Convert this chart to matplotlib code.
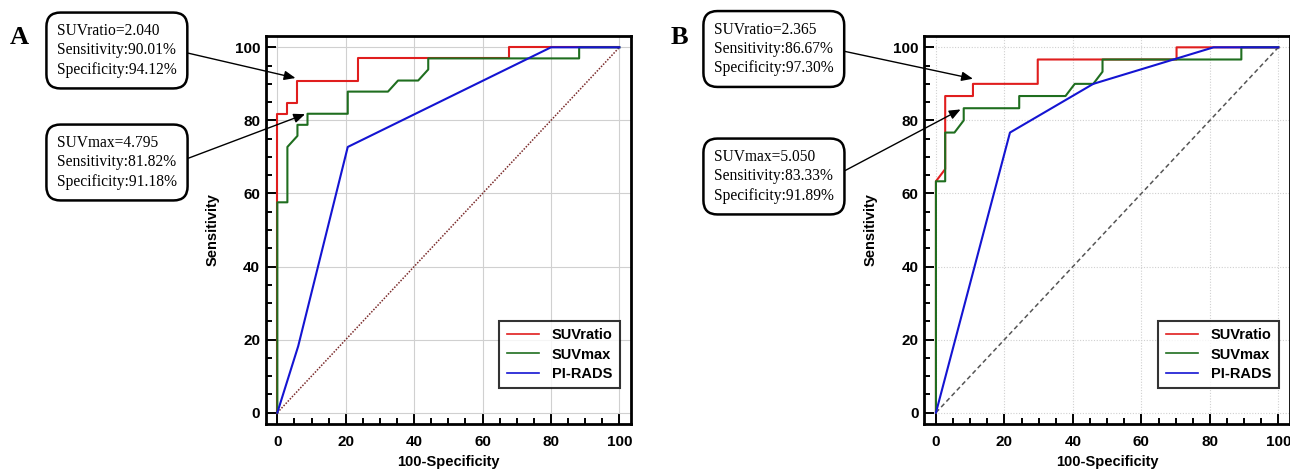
import matplotlib
matplotlib.use("Agg")
import matplotlib.pyplot as plt
from matplotlib.ticker import MultipleLocator

# ---- data ----
a_ratio_x = [0, 0, 2.94, 2.94, 5.88, 5.88, 23.53, 23.53, 67.65, 67.65, 100]
a_ratio_y = [0, 81.82, 81.82, 84.85, 84.85, 90.91, 90.91, 96.97, 96.97, 100, 100]
a_max_x = [0, 0, 2.94, 2.94, 5.88, 5.88, 8.82, 8.82, 20.59, 20.59, 32.35, 35.29,
           41.18, 44.12, 44.12, 88.24, 88.24, 100]
a_max_y = [0, 57.58, 57.58, 72.73, 75.76, 78.79, 78.79, 81.82, 81.82, 87.88, 87.88,
           90.91, 90.91, 93.94, 96.97, 96.97, 100, 100]
a_pirads_x = [0, 6.1, 20.59, 80.0, 100]
a_pirads_y = [0, 18.2, 72.73, 100, 100]

b_ratio_x = [0, 0, 2.70, 2.70, 10.81, 10.81, 29.73, 29.73, 70.27, 70.27, 100]
b_ratio_y = [0, 63.33, 66.67, 86.67, 86.67, 90.0, 90.0, 96.67, 96.67, 100, 100]
b_max_x = [0, 0, 2.70, 2.70, 5.41, 8.11, 8.11, 24.32, 24.32, 37.84, 40.54, 45.95,
           48.65, 48.65, 89.19, 89.19, 100]
b_max_y = [0, 63.33, 63.33, 76.67, 76.67, 80.0, 83.33, 83.33, 86.67, 86.67, 90.0,
           90.0, 93.33, 96.67, 96.67, 100, 100]
b_pirads_x = [0, 21.62, 45.95, 81.08, 100]
b_pirads_y = [0, 76.67, 90.0, 100, 100]

series_names = ["SUVratio", "SUVmax", "PI-RADS"]
panel_letters = ["A", "B"]

a_notes = ["SUVratio=2.040\nSensitivity:90.01%\nSpecificity:94.12%",
           "SUVmax=4.795\nSensitivity:81.82%\nSpecificity:91.18%"]
a_targets = [(5.3, 91.6), (8.1, 81.7)]
b_notes = ["SUVratio=2.365\nSensitivity:86.67%\nSpecificity:97.30%",
           "SUVmax=5.050\nSensitivity:83.33%\nSpecificity:91.89%"]
b_targets = [(10.8, 91.4), (7.2, 83.0)]

colors = ["#e01e1e", "#1f6e1f", "#1414d2"]

plt.rcParams["font.family"] = ["Liberation Sans", "DejaVu Sans"]

W, H = 1290, 471
fig = plt.figure(figsize=(W / 100, H / 100), dpi=100)


def panel(left_px, right_px, curves, diag_style, grid_style, notes, targets,
          note_x_px, note_y_px, letter, letter_x_px):
    ax = fig.add_axes([left_px / W, 1 - 424 / H, (right_px - left_px) / W, 388 / H])
    for (x, y), name, c in zip(curves, series_names, colors):
        ax.plot(x, y, color=c, lw=1.5, label=name, zorder=3)
    ax.plot([0, 100], [0, 100], zorder=2, lw=1.1, **diag_style)

    ax.set_xlim(-3.4, 103.4)
    ax.set_ylim(-3.1, 103.1)
    ax.xaxis.set_major_locator(MultipleLocator(20))
    ax.yaxis.set_major_locator(MultipleLocator(20))
    ax.xaxis.set_minor_locator(MultipleLocator(5))
    ax.yaxis.set_minor_locator(MultipleLocator(5))
    ax.tick_params(which="both", direction="in", top=False, right=False, width=1.4)
    ax.tick_params(which="major", length=7)
    ax.tick_params(which="minor", length=4)
    ax.tick_params(axis="x", pad=8)
    ax.tick_params(axis="y", pad=4)
    for lab in ax.get_xticklabels() + ax.get_yticklabels():
        lab.set_fontweight("bold")
        lab.set_fontsize(11)
    for s in ax.spines.values():
        s.set_linewidth(2.0)
    ax.grid(True, which="major", color="#d0d0d0", lw=0.8, **grid_style)
    ax.set_axisbelow(True)

    ax.set_xlabel("100-Specificity", fontweight="bold", fontsize=10.5, labelpad=4)
    ax.set_ylabel("Sensitivity", fontweight="bold", fontsize=10.5, labelpad=11)

    leg = ax.legend(loc="lower right", bbox_to_anchor=(0.97, 0.093), borderaxespad=0,
                    fancybox=False, edgecolor="black", handlelength=2.2,
                    handletextpad=0.9, labelspacing=0.35, borderpad=0.5,
                    prop={"weight": "bold", "size": 10.5})
    leg.get_frame().set_linewidth(1.5)
    for line in leg.get_lines():
        line.set_linewidth(1.2)

    for note, tgt, ny in zip(notes, targets, note_y_px):
        ax.annotate(note, xy=tgt, xycoords="data",
                    xytext=(note_x_px, H - ny), textcoords="figure pixels",
                    ha="left", va="center", fontsize=11.2, linespacing=1.28,
                    family=["Liberation Serif", "DejaVu Serif"],
                    bbox=dict(boxstyle="round,pad=0.68,rounding_size=0.9",
                              fc="white", ec="black", lw=1.8),
                    arrowprops=dict(arrowstyle="-|>,head_length=0.6,head_width=0.25",
                                    color="black", lw=1.0, relpos=(1.0, 0.5),
                                    shrinkA=0, shrinkB=0),
                    annotation_clip=False, zorder=5)

    fig.text(letter_x_px / W, 1 - 37 / H, letter, fontsize=19, fontweight="bold",
             family=["Liberation Serif", "DejaVu Serif"], ha="left", va="center")
    return ax


panel(265.7, 631,
      [(a_ratio_x, a_ratio_y), (a_max_x, a_max_y), (a_pirads_x, a_pirads_y)],
      dict(color="#7a2a2a", linestyle=(0, (1, 1))), dict(linestyle="-"),
      a_notes, a_targets, 57, [50.5, 162.5], panel_letters[0], 10)
panel(924.3, 1290,
      [(b_ratio_x, b_ratio_y), (b_max_x, b_max_y), (b_pirads_x, b_pirads_y)],
      dict(color="#555555", linestyle=(0, (3, 2))), dict(linestyle=(0, (1, 1.5))),
      b_notes, b_targets, 714, [49, 176.5], panel_letters[1], 671)

fig.savefig("out.png", dpi=100)
